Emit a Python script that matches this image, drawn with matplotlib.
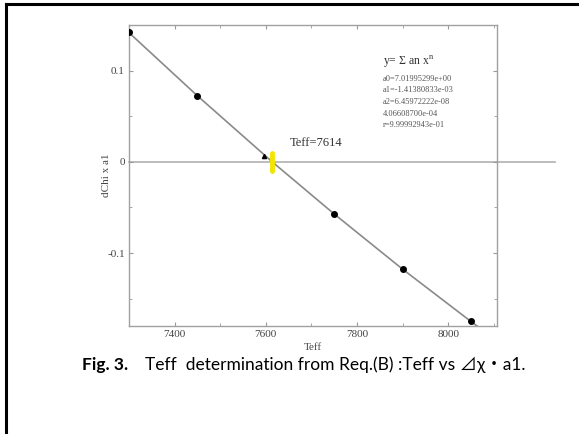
import numpy as np
import matplotlib.pyplot as plt
from matplotlib.lines import Line2D
from matplotlib.ticker import MultipleLocator, FixedLocator, FixedFormatter

# values
teff = [7300, 7450, 7600, 7750, 7900, 8050]
dchi_a1 = [0.142, 0.072, 0.006, -0.057, -0.118, -0.175]
# fitted curve, extended to where it meets the bottom axis
fit_teff = [7300, 7450, 7600, 7614, 7750, 7900, 8050, 8066]
fit_dchi = [0.1416, 0.0724, 0.0062, 0.0, -0.0572, -0.1177, -0.1751, -0.181]
teff_root = 7614
coef_lines = ["a0=7.01995299e+00", "a1=-1.41380833e-03", "a2=6.45972222e-08",
              "4.06608700e-04", "r=9.99992943e-01"]
yticks = [-0.1, 0.0, 0.1]
ytick_labels = ["-0.1", "0", "0.1"]
xticks = [7400, 7600, 7800, 8000]

plt.rcParams['font.family'] = ['Liberation Serif', 'DejaVu Serif']
plt.rcParams['mathtext.fontset'] = 'custom'
plt.rcParams['mathtext.rm'] = 'Liberation Serif'
plt.rcParams['axes.unicode_minus'] = False

W, H = 579, 434
fig = plt.figure(figsize=(W / 100, H / 100), dpi=100)
ax = fig.add_axes([129 / W, 1 - 326 / H, (497 - 129) / W, (326 - 25) / H])

gray = '#8a8a8a'
txt = '#444444'

ax.plot(fit_teff, fit_dchi, color=gray, lw=1.2, zorder=2)
ax.plot([7300, 8235], [0, 0], color='#b0b0b0', lw=1.2, clip_on=False, zorder=1)
ax.plot(teff[:2] + teff[3:], dchi_a1[:2] + dchi_a1[3:], 'o', color='black', ms=4, zorder=3)
ax.plot([teff[2] - 3], [dchi_a1[2]], '^', color='black', ms=3, zorder=3)
ax.plot([teff_root, teff_root], [0.010, -0.010], color='#f2e600', lw=3.5,
        solid_capstyle='round', zorder=4)

ax.text(7652, 0.017, "Teff=7614", fontsize=9, color='#333333')

ax.text(7857, 0.106, r"y= Σ an x$^{\rm n}$", fontsize=8.5, color='#333333')
for i, s in enumerate(coef_lines):
    ax.text(7857, 0.089 - i * 0.0128, s, fontsize=6, color='#555555')

ax.set_xlim(7300, 8107)
ax.set_ylim(-0.18, 0.15)
ax.xaxis.set_major_locator(FixedLocator(xticks))
ax.xaxis.set_minor_locator(MultipleLocator(100))
ax.yaxis.set_major_locator(FixedLocator(yticks))
ax.yaxis.set_major_formatter(FixedFormatter(ytick_labels))
ax.yaxis.set_minor_locator(MultipleLocator(0.05))
ax.tick_params(which='both', direction='in', top=True, right=True,
               color='#999999', labelsize=8, labelcolor=txt, pad=3)
ax.tick_params(which='major', length=3)
ax.tick_params(which='minor', length=2)
for sp in ax.spines.values():
    sp.set_color('#a0a0a0')
    sp.set_linewidth(1.0)

ax.set_xlabel("Teff", fontsize=8, color=txt, labelpad=3)
ax.set_ylabel("dChi x a1", fontsize=8, color=txt, labelpad=-3)

# caption
fig.text(82 / W, 1 - 365 / H, "Fig. 3.", fontsize=12.5, fontweight='bold',
         family=['Lato', 'Noto Sans CJK JP'], va='center', color='black')
fig.text(145 / W, 1 - 365 / H, "Teff  determination from Req.(B) :Teff vs ⊿χ・a1.",
         fontsize=12.5, family=['Lato', 'Noto Sans CJK JP', 'DejaVu Sans'],
         va='center', color='black')

# page frame
fig.add_artist(Line2D([6 / W, 6 / W], [0, 1 - 4 / H], color='black', lw=2.2))
fig.add_artist(Line2D([6 / W, 1], [1 - 4 / H, 1 - 4 / H], color='black', lw=2.2))

fig.savefig("out.png", dpi=100)
